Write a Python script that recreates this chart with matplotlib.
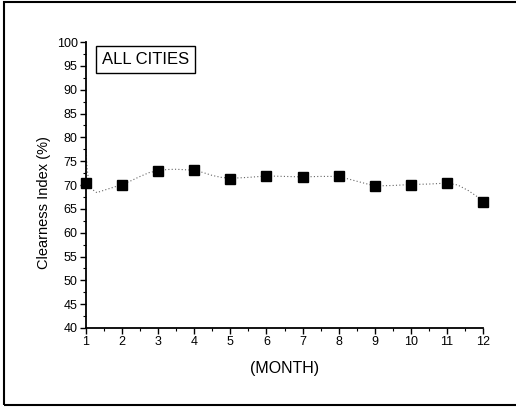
import matplotlib.pyplot as plt
from matplotlib.patches import Rectangle
from matplotlib.ticker import MultipleLocator

plt.rcParams['font.family'] = ['Liberation Sans', 'DejaVu Sans']

# monthly clearness index, all cities
months = [1, 2, 3, 4, 5, 6, 7, 8, 9, 10, 11, 12]
clearness = [70.35, 70.1, 73.0, 73.1, 71.3, 71.9, 71.7, 71.9, 69.7, 70.1, 70.4, 66.5]

# smoothed trend line as drawn on the chart
curve_x = [1.0, 1.03, 1.08, 1.15, 1.3, 1.5, 1.75, 2.0, 2.25, 2.5, 2.75, 3.0, 3.25, 3.5,
           3.75, 4.0, 4.25, 4.5, 4.75, 5.0, 5.5, 6.0, 6.5, 7.0, 7.5, 8.0, 8.5, 9.0,
           9.5, 10.0, 10.5, 11.0, 11.3, 11.6, 11.85, 12.0]
curve_y = [77.0, 73.5, 70.5, 69.2, 68.4, 68.9, 69.5, 70.1, 70.9, 71.8, 72.6, 73.0, 73.25, 73.3,
           73.2, 73.1, 72.6, 72.0, 71.6, 71.4, 71.6, 71.9, 71.8, 71.7, 71.8, 71.8, 70.8, 69.8,
           69.9, 70.1, 70.2, 70.4, 70.0, 68.8, 67.5, 66.6]

fig = plt.figure(figsize=(5.16, 4.08), dpi=100)
ax = fig.add_axes([86 / 516, 80 / 408, 397 / 516, 286 / 408])

ax.plot(curve_x, curve_y, linestyle=(0, (1, 2)), color='#666666', linewidth=0.8)
ax.plot(months, clearness, linestyle='none', marker='s', markersize=6.5, color='black',
        clip_on=False, zorder=3)

ax.set_xlim(1, 12)
ax.set_ylim(40, 100)
ax.xaxis.set_major_locator(MultipleLocator(1))
ax.xaxis.set_minor_locator(MultipleLocator(0.5))
ax.yaxis.set_major_locator(MultipleLocator(5))
ax.yaxis.set_minor_locator(MultipleLocator(2.5))
ax.tick_params(which='major', direction='out', length=4, width=1, labelsize=9, pad=2)
ax.tick_params(which='minor', direction='out', length=2, width=0.8)

for side in ['top', 'right']:
    ax.spines[side].set_visible(False)
for side in ['left', 'bottom']:
    ax.spines[side].set_linewidth(1.3)

ax.set_ylabel('Clearness Index (%)', fontsize=10.5)
ax.yaxis.set_label_coords(-0.088, 0.437)
ax.set_xlabel('(MONTH)', fontsize=11.5, labelpad=9)

ax.text(0.04, 0.965, 'ALL CITIES', transform=ax.transAxes, fontsize=12,
        ha='left', va='top',
        bbox=dict(boxstyle='square,pad=0.35', facecolor='white', edgecolor='black', linewidth=1))

# outer frame around the whole figure
fig.patches.append(Rectangle((4 / 516, 3 / 408), 520 / 516, 403 / 408, transform=fig.transFigure,
                             fill=False, edgecolor='black', linewidth=1.5))

fig.savefig('out.png', dpi=100)
